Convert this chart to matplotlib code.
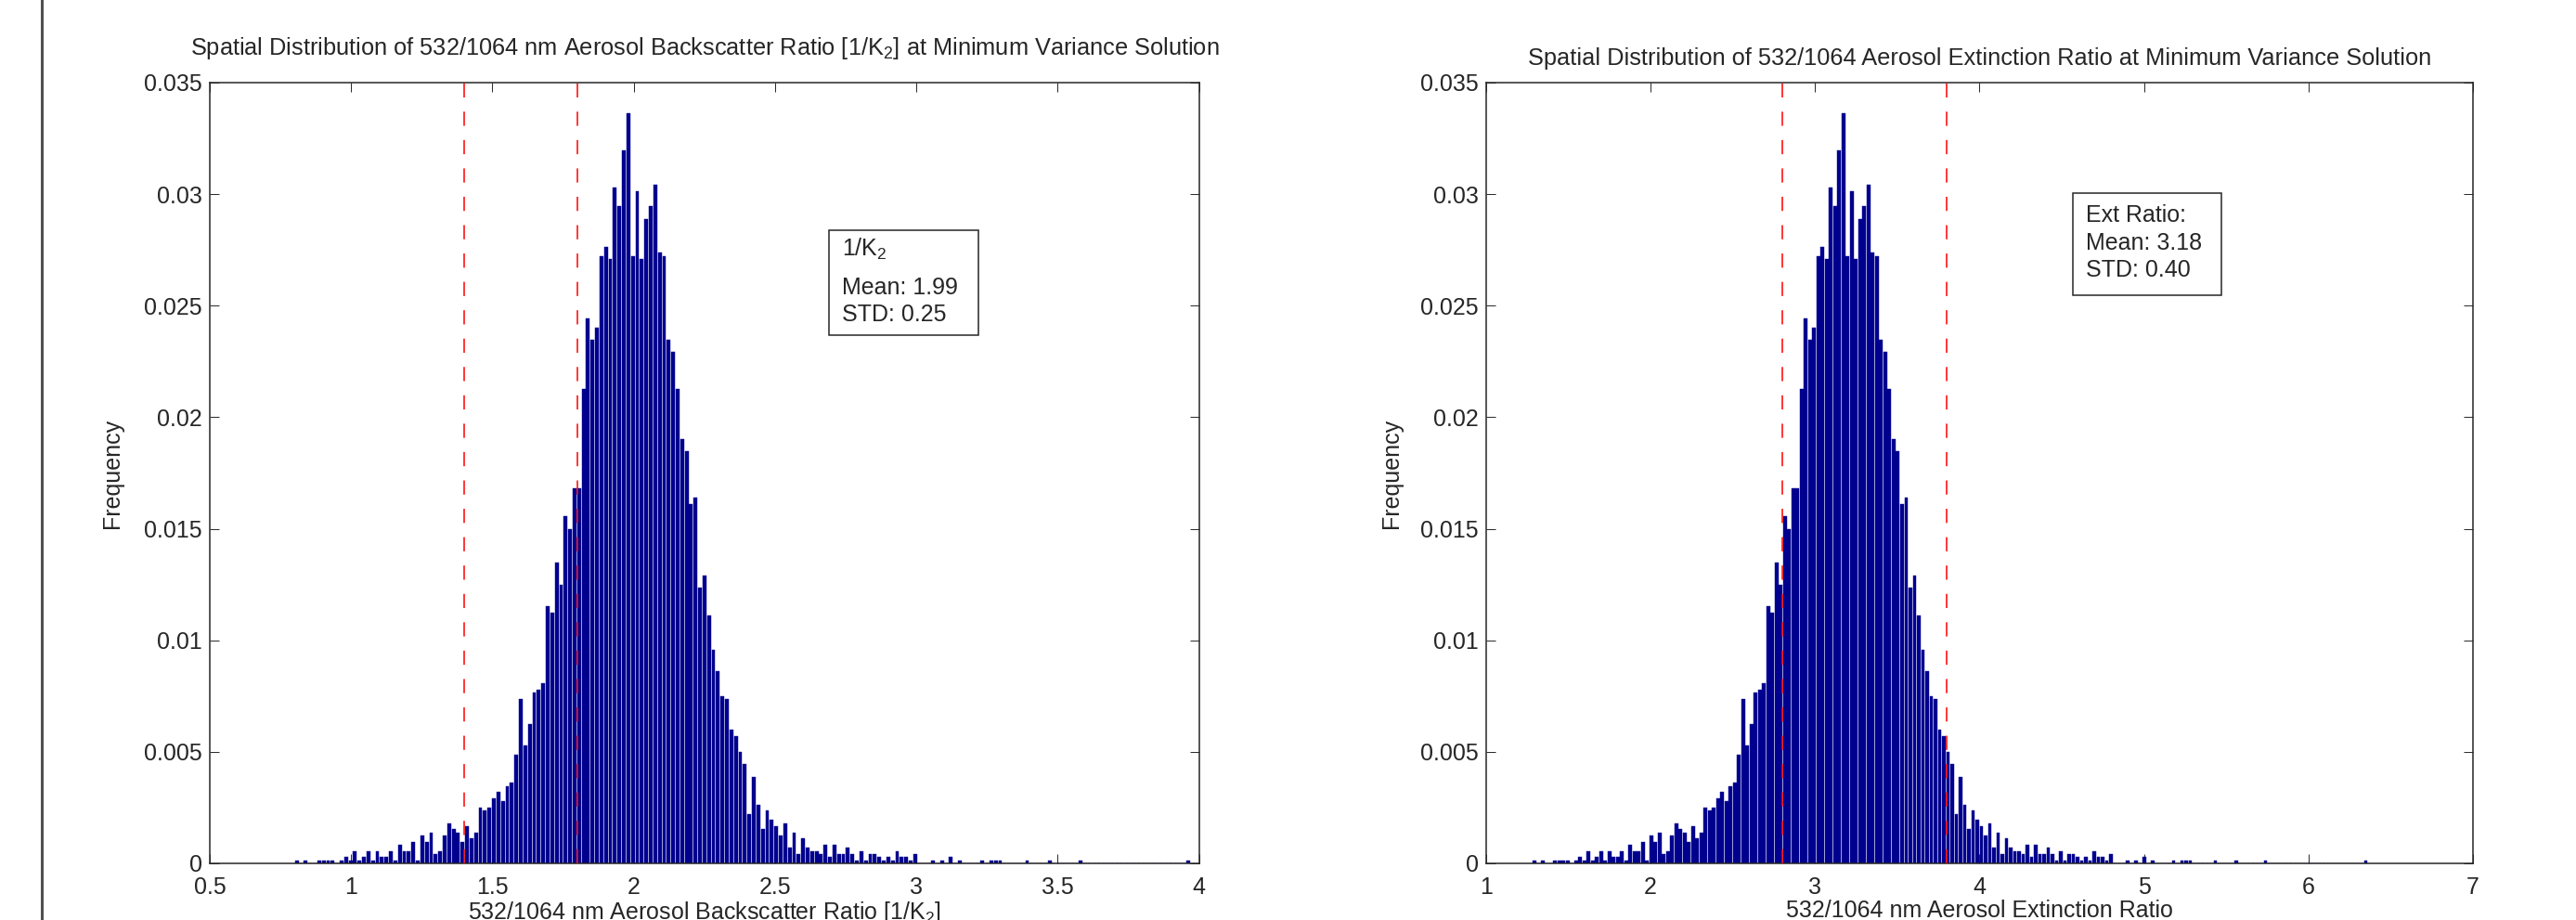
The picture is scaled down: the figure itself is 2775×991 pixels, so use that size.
import numpy as np
import matplotlib.pyplot as plt
from matplotlib.patches import Rectangle
from matplotlib.lines import Line2D

plt.rcParams['font.family'] = ['Liberation Sans', 'DejaVu Sans']
plt.rcParams['mathtext.fontset'] = 'custom'
plt.rcParams['mathtext.rm'] = 'Liberation Sans'
plt.rcParams['mathtext.it'] = 'Liberation Sans:italic'
plt.rcParams['mathtext.bf'] = 'Liberation Sans:bold'

# histogram bar heights (in counts, 200 bins)
counts = np.array([
    1, 0, 1, 0, 0, 1, 1, 1, 1, 0,
    1, 2, 1, 4, 1, 2, 4, 1, 4, 2,
    2, 4, 1, 6, 4, 4, 7, 1, 9, 7,
    10, 3, 4, 9, 13, 11, 10, 7, 12, 8,
    10, 18, 17, 18, 21, 23, 20, 25, 26, 35,
    53, 38, 45, 55, 56, 58, 83, 81, 97, 90,
    112, 108, 121, 121, 153, 176, 169, 173, 196, 199,
    195, 218, 212, 230, 242, 196, 217, 195, 208, 212,
    219, 197, 196, 169, 165, 153, 137, 133, 116, 118,
    89, 93, 80, 69, 62, 54, 53, 43, 41, 36,
    32, 16, 28, 19, 11, 17, 14, 12, 9, 13,
    5, 10, 3, 8, 5, 4, 4, 3, 6, 2,
    6, 3, 3, 5, 3, 1, 4, 1, 3, 3,
    2, 1, 2, 1, 4, 2, 2, 1, 3, 0,
    0, 0, 1, 0, 1, 0, 2, 0, 1, 0,
    0, 0, 0, 1, 0, 1, 1, 1, 0, 0,
    0, 0, 0, 1, 0, 0, 0, 0, 1, 0,
    0, 0, 0, 0, 0, 1, 0, 0, 0, 0,
    0, 0, 0, 0, 0, 0, 0, 0, 0, 0,
    0, 0, 0, 0, 0, 0, 0, 0, 0, 1,
])
freq_per_count = 1.389e-4   # one sample on the frequency axis

bsc_range = (0.80, 3.97)    # backscatter ratio min / max
ext_range = (1.28, 6.36)    # extinction ratio min / max
bsc_lines = [1.4, 1.8]
ext_lines = [2.8, 3.8]

bsc_xticks = [0.5, 1, 1.5, 2, 2.5, 3, 3.5, 4]
ext_xticks = [1, 2, 3, 4, 5, 6, 7]
yticks = [0, 0.005, 0.01, 0.015, 0.02, 0.025, 0.03, 0.035]

titles = ['Spatial Distribution of 532/1064 nm Aerosol Backscatter Ratio [1/K$\\mathregular{_2}$] at Minimum Variance Solution',
          'Spatial Distribution of 532/1064 Aerosol Extinction Ratio at Minimum Variance Solution']
xlabels = ['532/1064 nm Aerosol Backscatter Ratio [1/K$\\mathregular{_2}$]',
           '532/1064 nm Aerosol Extinction Ratio']
box_lines = [['1/K$\\mathregular{_2}$', 'Mean: 1.99', 'STD: 0.25'],
             ['Ext Ratio:', 'Mean: 3.18', 'STD: 0.40']]

INK = '#262626'
BAR = '#00008f'

fig = plt.figure(figsize=(27.75, 9.91), dpi=100)
ax1 = fig.add_axes([0.0814, 0.0616, 0.3841, 0.8486])
ax2 = fig.add_axes([0.5769, 0.0616, 0.3831, 0.8486])

# stray frame edge at the far left of the screenshot
fig.add_artist(Line2D([45/2775, 45/2775], [0, 1], transform=fig.transFigure, color='#505050', lw=2.2))


def panel(ax, rng, vlines, xticks, title, title_y, xlabel, ylab_x, lines, box, txt_x, txt_y):
    nb = len(counts)
    w = (rng[1]-rng[0])/nb
    centers = rng[0] + (np.arange(nb)+0.5)*w
    freq = counts*freq_per_count
    ax.bar(centers, freq, width=0.8*w, color=BAR, edgecolor=BAR, linewidth=0.3, zorder=2)
    for v in vlines:
        ax.axvline(v, color='r', lw=1.1, linestyle=(0, (10, 10)), zorder=3)
    ax.set_xlim(xticks[0], xticks[-1])
    ax.set_ylim(0, 0.035)
    ax.set_xticks(xticks)
    ax.set_xticklabels(['%g' % t for t in xticks])
    ax.set_yticks(yticks)
    ax.set_yticklabels(['%g' % t for t in yticks])
    ax.tick_params(direction='in', length=7.2, width=0.7, top=True, right=True,
                   labelsize=18, colors=INK)
    ax.tick_params(axis='x', pad=10)
    ax.tick_params(axis='y', pad=6)
    for s in ax.spines.values():
        s.set_linewidth(1.1)
        s.set_color(INK)
    ax.set_title(title, fontsize=18.3, color=INK, y=title_y, pad=0)
    ax.set_xlabel(xlabel, fontsize=18, color=INK, va='top')
    ax.xaxis.set_label_coords(0.5, -0.047)
    ax.set_ylabel('Frequency', fontsize=18, color=INK)
    ax.yaxis.set_label_coords(ylab_x, 0.5)
    ax.add_patch(Rectangle((box[0], box[1]), box[2], box[3], transform=ax.transAxes,
                           fill=True, facecolor='white', edgecolor=INK, lw=1.1, zorder=4))
    for s, y in zip(lines, txt_y):
        ax.text(txt_x, y, s, transform=ax.transAxes, fontsize=18, color=INK,
                va='baseline', ha='left', zorder=5)


panel(ax1, bsc_range, bsc_lines, bsc_xticks, titles[0], 1.0357, xlabels[0], -0.087, box_lines[0],
      (0.6257, 0.6766, 0.151, 0.1343), 0.6388, [0.7776, 0.7292, 0.6944])
panel(ax2, ext_range, ext_lines, ext_xticks, titles[1], 1.0226, xlabels[1], -0.085, box_lines[1],
      (0.5945, 0.7277, 0.1505, 0.1308), 0.6077, [0.8213, 0.7856, 0.7518])

fig.savefig('out.png', dpi=100)
